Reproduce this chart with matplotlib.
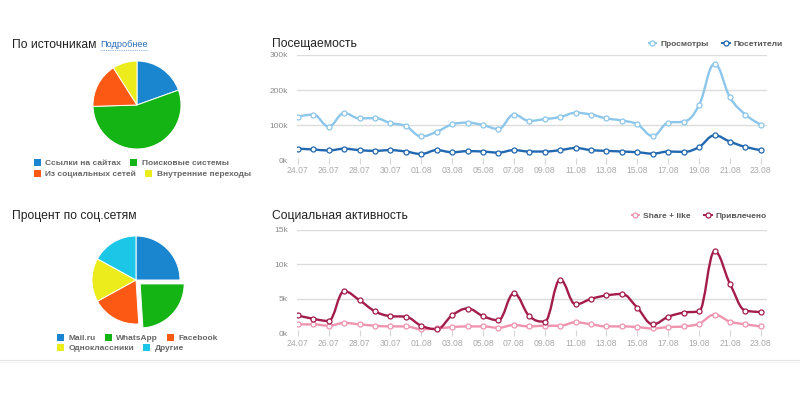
import numpy as np
import matplotlib
matplotlib.use("Agg")
from matplotlib import pyplot as plt
from matplotlib.path import Path
from matplotlib.patches import PathPatch, Patch
from matplotlib.lines import Line2D

plt.rcParams['font.family'] = ['Liberation Sans', 'DejaVu Sans']

# --- данные ---
days = ['24.07', '25.07', '26.07', '27.07', '28.07', '29.07', '30.07', '31.07',
        '01.08', '02.08', '03.08', '04.08', '05.08', '06.08', '07.08', '08.08',
        '09.08', '10.08', '11.08', '12.08', '13.08', '14.08', '15.08', '16.08',
        '17.08', '18.08', '19.08', '20.08', '21.08', '22.08', '23.08']

# Посещаемость, тыс.
views = [125, 131, 97, 135, 120, 121, 107, 98, 69, 82, 103, 108, 101, 90, 131, 113,
         118, 124, 136, 131, 120, 114, 103, 70, 108, 111, 158, 275, 180, 131, 102]
visitors = [34, 32, 29, 34, 30, 28, 30, 26, 19, 30, 24, 27, 26, 23, 30, 26,
            26, 30, 36, 30, 28, 26, 24, 20, 26, 25, 39, 72, 54, 39, 30]

# Социальная активность, тыс.
shares = [1.3, 1.3, 1.1, 1.5, 1.3, 1.1, 1.0, 1.0, 0.6, 0.7, 0.9, 1.0, 1.0, 0.8, 1.2, 1.0,
          1.1, 1.1, 1.6, 1.3, 1.0, 1.0, 0.9, 0.7, 0.9, 1.0, 1.4, 2.7, 1.7, 1.3, 1.0]
attracted = [2.6, 2.1, 1.8, 6.1, 4.8, 3.2, 2.5, 2.4, 1.1, 0.6, 2.6, 3.6, 2.5, 1.9, 5.8, 2.5,
             1.7, 7.8, 4.2, 5.0, 5.5, 5.7, 3.7, 1.3, 2.4, 3.0, 3.2, 11.9, 7.2, 3.3, 3.1]

# По источникам, %
src_labels = ['Ссылки на сайтах', 'Поисковые системы', 'Из социальных сетей', 'Внутренние переходы']
src_values = [19.5, 55, 16.5, 9]
src_colors = ['#1a86cf', '#14b414', '#fc5a14', '#ecec1c']

# Процент по соц.сетям, %
soc_labels = ['Mail.ru', 'WhatsApp', 'Facebook', 'Одноклассники', 'Другие']
soc_values = [25, 24, 18, 16, 17]
soc_colors = ['#1a86cf', '#14b414', '#fc5a14', '#ecec1c', '#1cc6e6']


def spline_path(xs, ys):
    # сглаженная линия как в highcharts (кубические кривые Безье)
    n = len(xs)
    sm = 1.5
    den = sm + 1
    lc = [None] * n
    rc = [None] * n
    for i in range(1, n - 1):
        px, py = xs[i], ys[i]
        lx, ly = xs[i - 1], ys[i - 1]
        nx, ny = xs[i + 1], ys[i + 1]
        lcx = (sm * px + lx) / den
        lcy = (sm * py + ly) / den
        rcx = (sm * px + nx) / den
        rcy = (sm * py + ny) / den
        corr = (rcy - lcy) * (rcx - px) / (rcx - lcx) + py - rcy
        lcy += corr
        rcy += corr
        if lcy > ly and lcy > py:
            lcy = max(ly, py)
            rcy = 2 * py - lcy
        elif lcy < ly and lcy < py:
            lcy = min(ly, py)
            rcy = 2 * py - lcy
        if rcy > ny and rcy > py:
            rcy = max(ny, py)
            lcy = 2 * py - rcy
        elif rcy < ny and rcy < py:
            rcy = min(ny, py)
            lcy = 2 * py - rcy
        lc[i] = (lcx, lcy)
        rc[i] = (rcx, rcy)
    verts = [(xs[0], ys[0])]
    codes = [Path.MOVETO]
    for i in range(1, n):
        c1 = rc[i - 1] if rc[i - 1] else (xs[i - 1], ys[i - 1])
        c2 = lc[i] if lc[i] else (xs[i], ys[i])
        verts += [c1, c2, (xs[i], ys[i])]
        codes += [Path.CURVE4] * 3
    return Path(verts, codes)


def draw_line(ax, xs, ys, color):
    ax.add_patch(PathPatch(spline_path(xs, ys), fill=False, edgecolor=color,
                           lw=1.7, zorder=3, joinstyle='round'))
    ax.plot(xs, ys, linestyle='none', marker='o', ms=3.6, mfc='white',
            mec=color, mew=0.9, zorder=4)


def style_axes(ax, ymax, step):
    ax.set_xlim(-0.05, 30.4)
    ax.set_ylim(0, ymax)
    for s in ax.spines.values():
        s.set_visible(False)
    yt = np.arange(0, ymax + 1, step)
    ax.set_yticks(yt)
    ax.set_yticklabels(['{:g}k'.format(v) for v in yt])
    ax.yaxis.grid(True, color='#dcdcdc', lw=1.0)
    ax.get_ygridlines()[0].set_visible(False)
    ax.set_axisbelow(True)
    ax.tick_params(axis='y', length=0, labelsize=6, labelcolor='#8a8a8a', pad=6.5)
    ax.set_xticks(x[::2])
    ax.set_xticklabels(days[::2])
    ax.tick_params(axis='x', length=4, direction='inout', color='#d6d6d6',
                   labelsize=6.2, labelcolor='#aaaaaa', pad=2)


W, H = 800, 394
fig = plt.figure(figsize=(8, 3.94), dpi=100)
x = np.arange(len(days))

# --- Посещаемость ---
ax1 = fig.add_axes([297 / W, 1 - 160.7 / H, 470 / W, 105.7 / H])
style_axes(ax1, 300, 100)
draw_line(ax1, x, views, '#8cc6ea')
draw_line(ax1, x, visitors, '#2268b0')

# --- Социальная активность ---
ax2 = fig.add_axes([297 / W, 1 - 333.3 / H, 470 / W, 103.3 / H])
style_axes(ax2, 15, 5)
draw_line(ax2, x, shares, '#f094ae')
draw_line(ax2, x, attracted, '#a31c4b')


def line_legend(names, colors, xr, yc):
    hs = [Line2D([], [], color=c, lw=1.4, marker='o', ms=3.6, mfc='white', mec=c, mew=0.9)
          for c in colors]
    fig.legend(hs, names, loc='center right', bbox_to_anchor=(xr / W, 1 - yc / H),
               ncol=2, frameon=False, handlelength=0.9, handletextpad=0.5,
               columnspacing=1.6, borderpad=0, borderaxespad=0,
               prop={'size': 6, 'weight': 'bold'}, labelcolor='#555555')


line_legend(['Просмотры', 'Посетители'], ['#8cc6ea', '#2268b0'], 783, 44)
line_legend(['Share + like', 'Привлечено'], ['#f094ae', '#a31c4b'], 767, 216)

# --- круговые диаграммы ---
R = 44
M = 60
p1 = fig.add_axes([(137 - M) / W, 1 - (105 + M) / H, 2 * M / W, 2 * M / H])
p1.pie(src_values, colors=src_colors, startangle=90, counterclock=False,
       wedgeprops=dict(edgecolor='white', linewidth=0.7))
p1.set_xlim(-M / R, M / R)
p1.set_ylim(-M / R, M / R)
p1.axis('off')

p2 = fig.add_axes([(136 - M) / W, 1 - (280 + M) / H, 2 * M / W, 2 * M / H])
p2.pie(soc_values, colors=soc_colors, startangle=90, counterclock=False,
       explode=[0, 0.13, 0, 0, 0],
       wedgeprops=dict(edgecolor='white', linewidth=0.7))
p2.set_xlim(-M / R, M / R)
p2.set_ylim(-M / R, M / R)
p2.axis('off')


def pie_legend(names, colors, x0, yc, ncol):
    hs = [Patch(facecolor=c, edgecolor='none') for c in colors]
    fig.legend(hs, names, loc='center left', bbox_to_anchor=(x0 / W, 1 - yc / H),
               ncol=ncol, frameon=False, handlelength=0.85, handleheight=0.85,
               handletextpad=0.5, columnspacing=1.1, borderpad=0, borderaxespad=0,
               prop={'size': 6, 'weight': 'bold'}, labelcolor='#666666')


pie_legend(src_labels[:2], src_colors[:2], 34, 163, 2)
pie_legend(src_labels[2:], src_colors[2:], 34, 174, 2)
pie_legend(soc_labels[:3], soc_colors[:3], 57, 338, 3)
pie_legend(soc_labels[3:], soc_colors[3:], 57, 348, 2)

# --- заголовки ---
tkw = dict(fontsize=8.7, color='#222222', va='baseline', ha='left')
fig.text(12 / W, 1 - 47.5 / H, 'По источникам', **tkw)
fig.text(272 / W, 1 - 47.5 / H, 'Посещаемость', **tkw)
fig.text(12 / W, 1 - 219.5 / H, 'Процент по соц.сетям', **tkw)
fig.text(272 / W, 1 - 219.5 / H, 'Социальная активность', **tkw)

link = fig.text(100 / W, 1 - 47 / H, 'Подробнее', fontsize=6.6, color='#2a6db5',
                va='baseline', ha='left')
fig.canvas.draw()
bb = link.get_window_extent().transformed(fig.transFigure.inverted())
fig.add_artist(Line2D([bb.x0, bb.x1], [bb.y0 - 1 / H, bb.y0 - 1 / H], color='#6a9ad0',
                      lw=0.6, linestyle=(0, (1, 1.2))))

# разделитель внизу
fig.add_artist(Line2D([0, 1], [1 - 360 / H] * 2, color='#e4e4e4', lw=0.8))
fig.add_artist(Line2D([0, 1], [1 - 361.5 / H] * 2, color='#f3f3f3', lw=0.8))

plt.savefig('out.png', dpi=100)
